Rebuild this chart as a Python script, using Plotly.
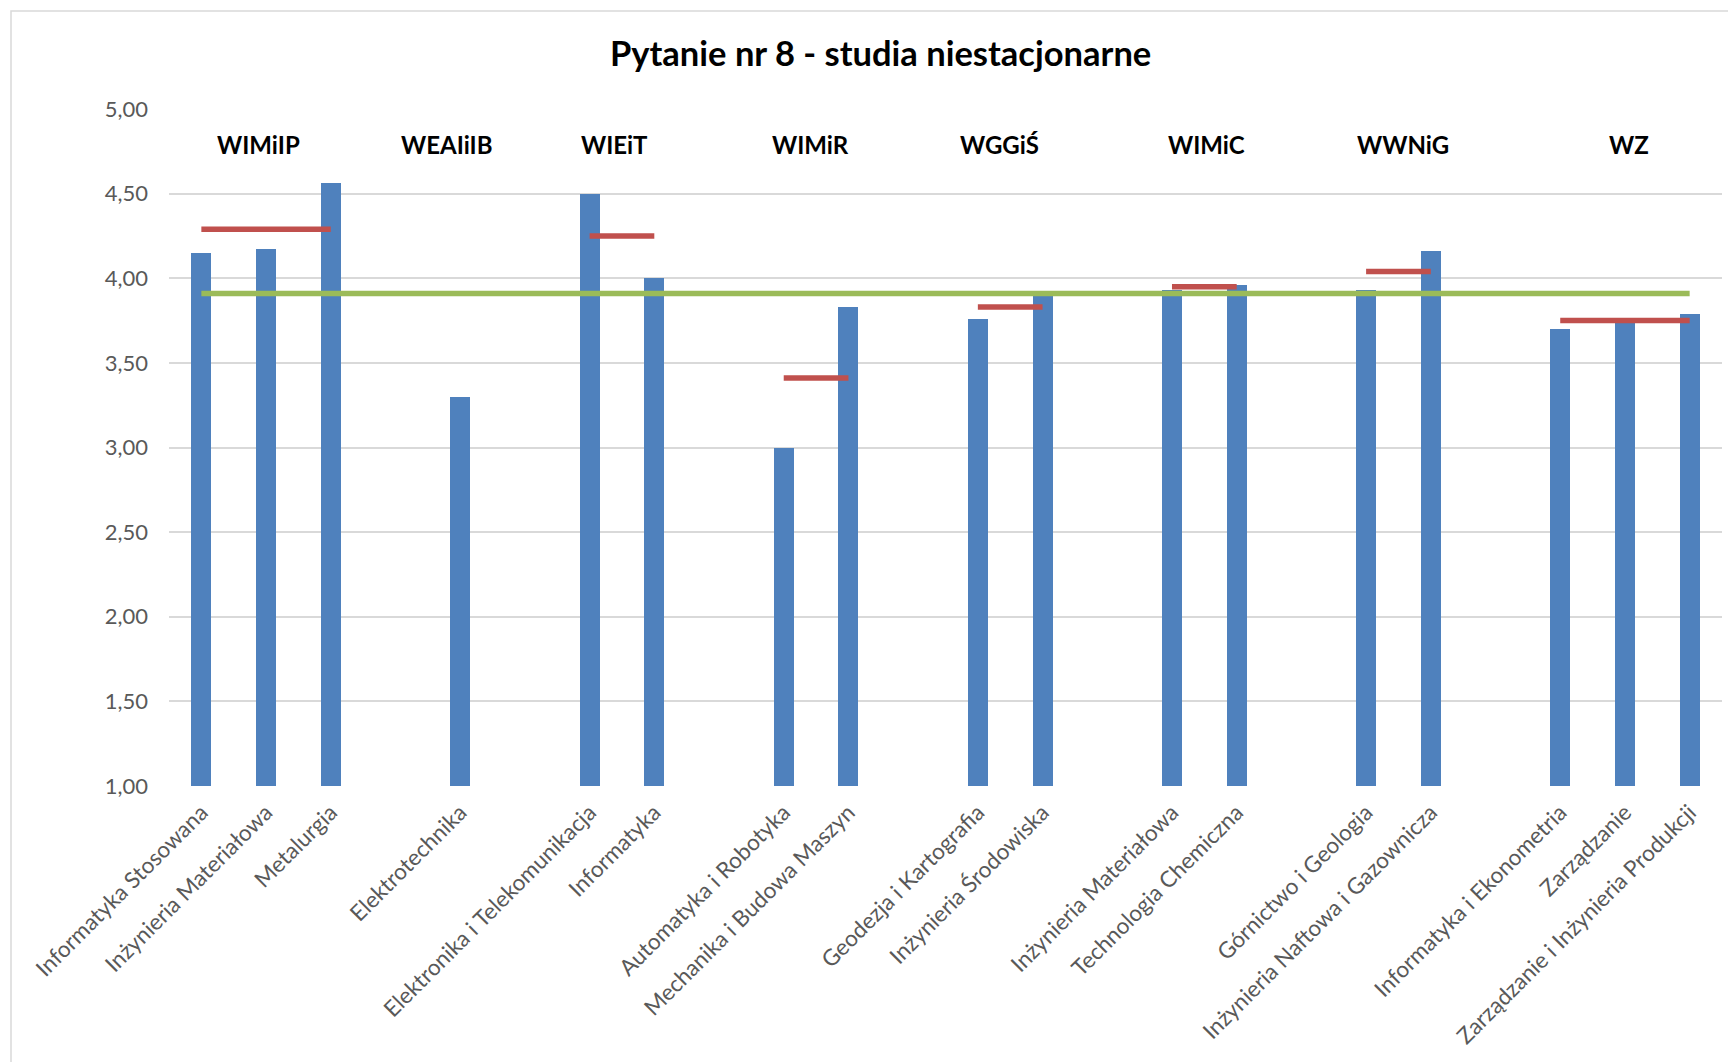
import plotly.graph_objects as go

# ---- data ----
categories = [
    "Informatyka Stosowana", "Inżynieria Materiałowa", "Metalurgia", "",
    "Elektrotechnika", "",
    "Elektronika i Telekomunikacja", "Informatyka", "",
    "Automatyka i Robotyka", "Mechanika i Budowa Maszyn", "",
    "Geodezja i Kartografia", "Inżynieria Środowiska", "",
    "Inżynieria Materiałowa", "Technologia Chemiczna", "",
    "Górnictwo i Geologia", "Inżynieria Naftowa i Gazownicza", "",
    "Informatyka i Ekonometria", "Zarządzanie", "Zarządzanie i Inżynieria Produkcji",
]
values = [
    4.15, 4.17, 4.56, None,
    3.30, None,
    4.50, 4.00, None,
    3.00, 3.83, None,
    3.76, 3.90, None,
    3.93, 3.96, None,
    3.93, 4.16, None,
    3.70, 3.76, 3.79,
]
faculty_avg = [
    4.29, 4.29, 4.29, None,
    3.30, None,
    4.25, 4.25, None,
    3.41, 3.41, None,
    3.83, 3.83, None,
    3.95, 3.95, None,
    4.04, 4.04, None,
    3.75, 3.75, 3.75,
]
overall_avg = [3.91] * len(categories)
faculties = ["WIMiIP", "WEAIiIB", "WIEiT", "WIMiR", "WGGiŚ", "WIMiC", "WWNiG", "WZ"]
faculty_label_x = [0.89, 3.80, 6.38, 9.41, 12.33, 15.54, 18.57, 22.06]
faculty_label_y = 4.79
y_ticks = [1.0, 1.5, 2.0, 2.5, 3.0, 3.5, 4.0, 4.5, 5.0]
y_tick_text = ["1,00", "1,50", "2,00", "2,50", "3,00", "3,50", "4,00", "4,50", "5,00"]

idx = list(range(len(categories)))
tick_idx = [i for i, c in enumerate(categories) if c]
tick_txt = [c for c in categories if c]

FONT = "Lato"
W, H = 1728, 1054
L, T, PW, PH = 161, 101, 1553, 677

fig = go.Figure()
fig.add_trace(go.Bar(x=idx, y=values, width=0.31,
                     marker=dict(color="#4F81BD", line=dict(width=0)),
                     showlegend=False, hoverinfo="skip"))
fig.add_trace(go.Scatter(x=idx, y=faculty_avg, mode="lines", connectgaps=False,
                         line=dict(color="#C0504D", width=5.5), showlegend=False))
fig.add_trace(go.Scatter(x=idx, y=overall_avg, mode="lines",
                         line=dict(color="#9BBB59", width=5.5), showlegend=False))

for name, xx in zip(faculties, faculty_label_x):
    fig.add_annotation(x=xx, y=faculty_label_y, text=f"<b>{name}</b>", showarrow=False,
                       xref="x", yref="y", font=dict(family=FONT, size=24, color="#000000"))

# chart-area frame (cut off at right and bottom in the reference)
fx0 = (3 - L) / PW
fy1 = 1 + (T - 3) / PH
fig.add_shape(type="rect", xref="paper", yref="paper", x0=fx0, x1=1.2, y0=-1.0, y1=fy1,
              line=dict(color="#D9D9D9", width=1.5), fillcolor="rgba(0,0,0,0)", layer="below")

fig.update_layout(
    width=W, height=H,
    margin=dict(l=L, r=W - L - PW, t=T, b=H - T - PH),
    paper_bgcolor="white", plot_bgcolor="white",
    title=dict(text="<b>Pytanie nr 8 - studia niestacjonarne</b>", x=0.505, xanchor="center",
               y=1 - 46 / H, yanchor="middle",
               font=dict(family=FONT, size=34.5, color="#000000")),
    xaxis=dict(range=[-0.5, len(categories) - 0.5], tickvals=tick_idx, ticktext=tick_txt,
               tickangle=-45, showgrid=False, zeroline=False, showline=False,
               ticks="", ticklabelstandoff=8,
               tickfont=dict(family=FONT, size=22.5, color="#595959")),
    yaxis=dict(range=[1, 5], tickvals=y_ticks, ticktext=y_tick_text,
               showgrid=True, gridcolor="#D9D9D9", gridwidth=1.5, zeroline=False,
               showline=False, ticks="", ticklabelstandoff=20,
               tickfont=dict(family=FONT, size=22, color="#595959")),
    bargap=0,
)
fig.write_html("out.html")
